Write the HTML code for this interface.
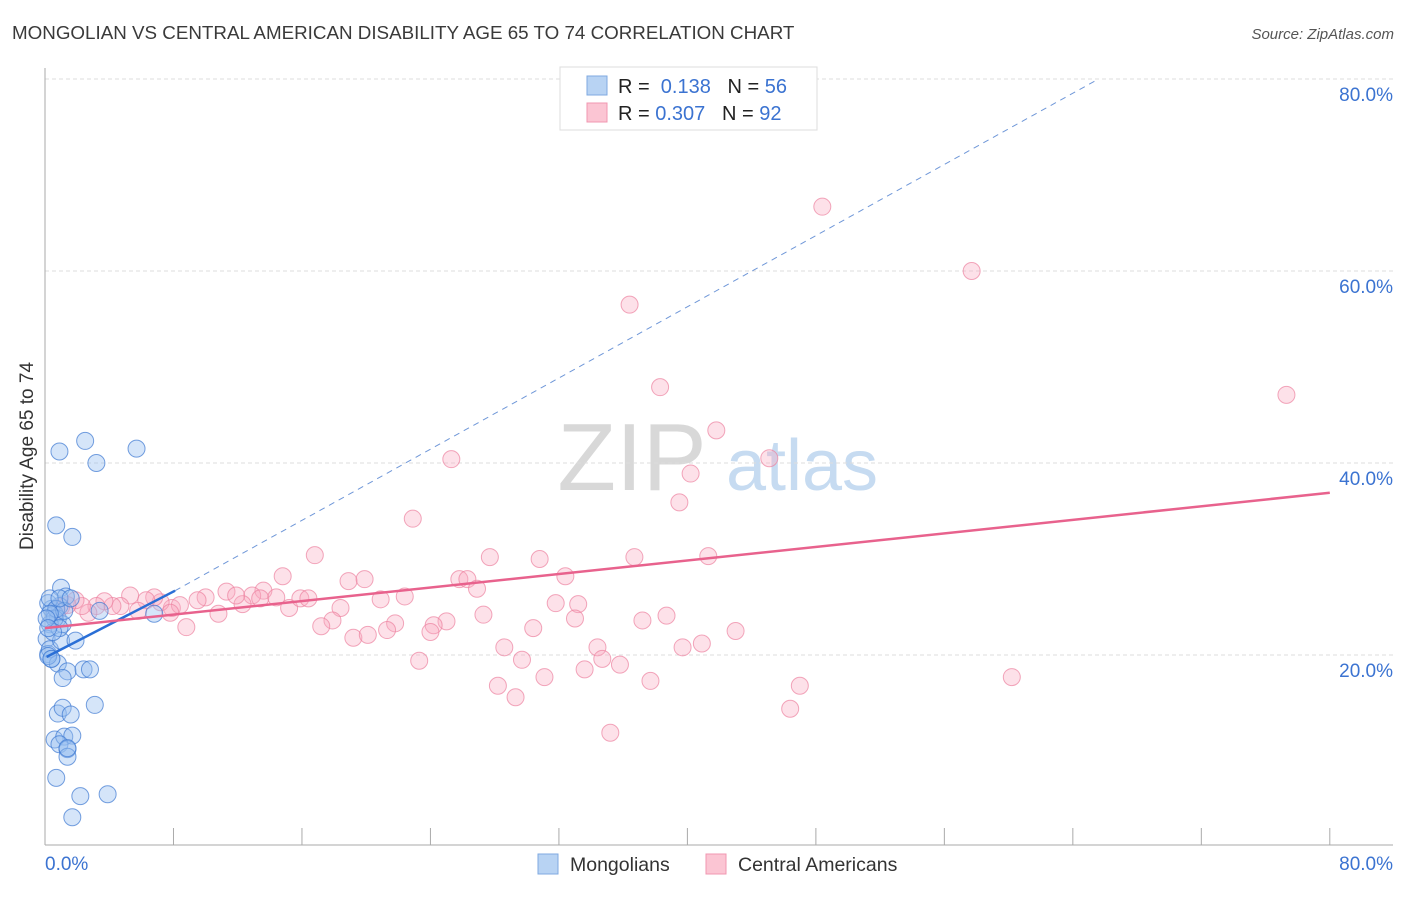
<!DOCTYPE html>
<html><head><meta charset="utf-8"><style>
body{margin:0;background:#fff;font-family:"Liberation Sans",sans-serif;}
svg text{font-family:"Liberation Sans",sans-serif;}
</style></head><body>
<svg id="chart" width="1406" height="892" xmlns="http://www.w3.org/2000/svg">
<text x="12" y="39" font-size="18.8" fill="#3a3a3a">MONGOLIAN VS CENTRAL AMERICAN DISABILITY AGE 65 TO 74 CORRELATION CHART</text>
<text x="1394" y="39" font-size="15" fill="#555" text-anchor="end" font-style="italic">Source: ZipAtlas.com</text>
<g>
<text x="632" y="490" font-size="96" fill="#d8d8d8" font-family="Liberation Serif,serif" text-anchor="middle">ZIP</text>
<text x="802" y="490" font-size="72" fill="#c6dbf1" text-anchor="middle">atlas</text>
</g>
<g id="grid"></g>
<g id="axes"></g>
<g id="marks"></g>
<text transform="translate(33,456) rotate(-90)" font-size="19" fill="#333" text-anchor="middle">Disability Age 65 to 74</text>
<g>
<rect x="560" y="67" width="257" height="63" fill="#fff" stroke="#ddd"/>
<rect x="587" y="76" width="20" height="19" fill="#b8d3f3" stroke="#7fa9e0"/>
<rect x="587" y="103" width="20" height="19" fill="#fbc5d3" stroke="#f097b0"/>
<text x="618" y="93" font-size="20" fill="#222">R = <tspan fill="#3b73d1">&#160;0.138</tspan>&#160;&#160;&#160;N = <tspan fill="#3b73d1">56</tspan></text>
<text x="618" y="120" font-size="20" fill="#222">R = <tspan fill="#3b73d1">0.307</tspan>&#160;&#160;&#160;N = <tspan fill="#3b73d1">92</tspan></text>
</g>
<g>
<rect x="538" y="854" width="20" height="20" fill="#b8d3f3" stroke="#7fa9e0"/>
<text x="570" y="871" font-size="19.5" fill="#333">Mongolians</text>
<rect x="706" y="854" width="20" height="20" fill="#fbc5d3" stroke="#f097b0"/>
<text x="738" y="871" font-size="19.5" fill="#333">Central Americans</text>
</g>
</svg>
<script>
const yTicks=[20,40,60,80];
const yTickLabels=["20.0%","40.0%","60.0%","80.0%"];
const xLabels=["0.0%","80.0%"];
const blueX=[0.9,2.5,3.2,5.7,0.7,1.7,1.0,1.3,0.9,3.4,6.8,0.4,0.6,0.8,1.1,0.2,0.3,0.1,0.2,0.4,0.3,1.0,1.9,0.8,1.4,2.4,2.8,1.1,3.1,0.8,1.1,1.6,0.6,1.2,1.7,0.9,1.4,1.4,0.7,2.2,3.9,1.7,0.3,0.6,0.9,0.5,0.2,0.7,1.2,0.3,0.1,0.4,0.9,1.6,1.4,0.2];
const blueY=[41.2,42.3,40.0,41.5,33.5,32.3,27.0,26.1,25.1,24.6,24.3,24.8,24.3,23.8,23.2,25.4,23.2,21.7,20.1,19.6,20.6,21.5,21.5,19.1,18.3,18.5,18.5,17.6,14.8,13.9,14.5,13.8,11.2,11.5,11.6,10.7,10.2,9.4,7.2,5.3,5.5,3.1,25.9,23.8,22.8,22.4,19.9,24.8,24.6,24.3,23.8,19.6,25.9,25.9,10.3,22.8];
const pinkX=[48.4,57.7,36.4,77.3,38.3,41.8,45.1,25.3,40.2,22.9,39.5,16.8,27.7,30.8,36.7,41.3,14.8,18.9,19.9,25.8,26.3,26.9,32.4,22.4,20.9,18.4,31.8,33.2,27.3,38.7,37.2,33.0,17.9,17.2,21.8,25.0,24.2,24.0,21.3,19.2,20.1,30.4,43.0,34.4,28.6,39.7,40.9,23.3,29.7,34.7,35.8,33.6,31.1,37.7,28.2,29.3,47.0,60.2,46.4,35.2,8.8,10.8,15.2,15.9,13.6,12.9,11.3,10.0,9.5,7.9,8.4,7.2,6.8,6.3,5.8,5.3,4.7,4.2,3.7,3.2,2.7,2.3,1.9,1.4,1.0,0.7,13.4,12.3,11.9,14.4,16.4,7.8];
const pinkY=[66.7,60.0,56.5,47.1,47.9,43.4,40.5,40.4,38.9,34.2,35.9,30.4,30.2,30.0,30.2,30.3,28.2,27.7,27.9,27.9,27.9,26.9,28.2,26.1,25.8,24.9,25.4,25.3,24.2,24.1,23.6,23.8,23.6,23.0,23.3,23.5,23.1,22.4,22.6,21.8,22.1,22.8,22.5,20.8,20.8,20.8,21.2,19.4,19.5,19.6,19.0,18.5,17.7,17.3,16.8,15.6,16.8,17.7,14.4,11.9,22.9,24.3,24.9,25.9,26.7,26.2,26.6,26.0,25.7,24.9,25.2,25.5,26.0,25.7,24.6,26.2,25.1,25.1,25.6,25.1,24.4,25.1,25.7,25.2,25.0,24.7,25.9,25.3,26.2,26.0,25.9,24.4];
const blueFit=[[0.1,19.8],[8.1,26.7]];
const blueDash=[[8.1,26.7],[65.6,80]];
const pinkFit=[[0,22.8],[80,36.9]];
const X=v=>45+v*16.06, Y=v=>847-v*9.6;
const NS="http://www.w3.org/2000/svg";
function mk(t,a,p){const e=document.createElementNS(NS,t);for(const k in a)e.setAttribute(k,a[k]);p.appendChild(e);return e;}
const grid=document.getElementById('grid'),axes=document.getElementById('axes'),marks=document.getElementById('marks');
yTicks.forEach((t,i)=>{
 const l=mk('line',{x1:45,x2:1393,y1:Y(t),y2:Y(t),stroke:'#ddd','stroke-dasharray':'4,3'},grid);
 
 
 const tx=mk('text',{x:1393,y:Y(t)+22,'font-size':19,fill:'#3b73d1','text-anchor':'end'},grid);
 tx.textContent=yTickLabels[i];
 
 
});
const ax=mk('line',{x1:45,x2:45,y1:68,y2:845,stroke:'#aaa'},axes);


const bx=mk('line',{x1:45,x2:1393,y1:845,y2:845,stroke:'#aaa'},axes);


for(let i=0;i<=10;i++){const t=mk('line',{x1:X(i*8),x2:X(i*8),y1:828,y2:845,stroke:'#aaa'},axes);
 
 }
[[0,'start',45],[80,'end',1393]].forEach((d,i)=>{const t=mk('text',{x:d[2],y:870,'font-size':19,fill:'#3b73d1','text-anchor':d[1]},axes);t.textContent=xLabels[i];
 
 });
pinkX.forEach((x,i)=>{const c=mk('circle',{cx:X(x),cy:Y(pinkY[i]),r:8.5,fill:'rgba(248,170,192,0.35)',stroke:'rgba(236,130,160,0.7)','stroke-width':1},marks);
 
 });
blueX.forEach((x,i)=>{const c=mk('circle',{cx:X(x),cy:Y(blueY[i]),r:8.5,fill:'rgba(150,190,240,0.4)',stroke:'rgba(60,120,210,0.7)','stroke-width':1},marks);
 
 });
const bd=mk('line',{x1:X(blueDash[0][0]),y1:Y(blueDash[0][1]),x2:X(blueDash[1][0]),y2:Y(blueDash[1][1]),stroke:'#6f97d8','stroke-width':1,'stroke-dasharray':'6,5'},marks);


const bl=mk('line',{x1:X(blueFit[0][0]),y1:Y(blueFit[0][1]),x2:X(blueFit[1][0]),y2:Y(blueFit[1][1]),stroke:'#2a6fd6','stroke-width':2.5},marks);


const pl=mk('line',{x1:X(pinkFit[0][0]),y1:Y(pinkFit[0][1]),x2:X(pinkFit[1][0]),y2:Y(pinkFit[1][1]),stroke:'#e8628d','stroke-width':2.5},marks);


</script>
</body></html>
